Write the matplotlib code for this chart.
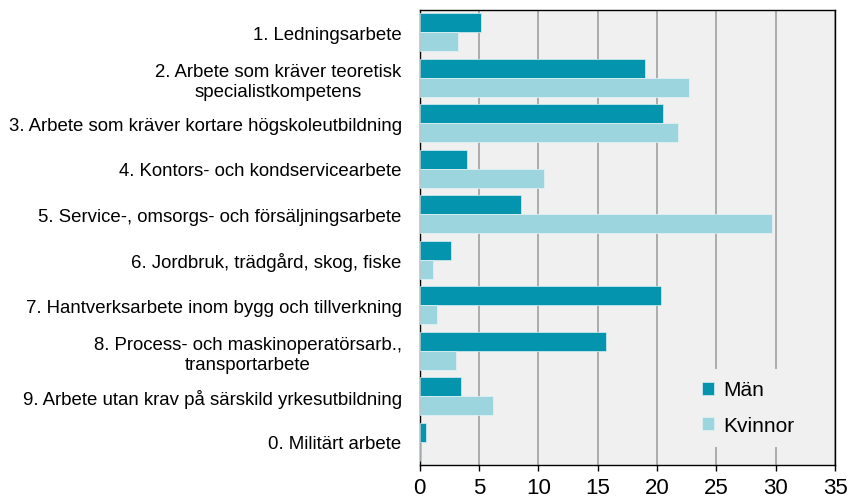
import matplotlib
matplotlib.use("Agg")
import matplotlib.pyplot as plt
import numpy as np

plt.rcParams['font.family'] = ['Liberation Sans', 'DejaVu Sans']

categories = [
    "1. Ledningsarbete",
    "2. Arbete som kräver teoretisk\nspecialistkompetens",
    "3. Arbete som kräver kortare högskoleutbildning",
    "4. Kontors- och kondservicearbete",
    "5. Service-, omsorgs- och försäljningsarbete",
    "6. Jordbruk, trädgård, skog, fiske",
    "7. Hantverksarbete inom bygg och tillverkning",
    "8. Process- och maskinoperatörsarb.,\ntransportarbete",
    "9. Arbete utan krav på särskild yrkesutbildning",
    "0. Militärt arbete",
]
man = [5.2, 19.0, 20.5, 4.0, 8.5, 2.6, 20.3, 15.7, 3.5, 0.5]
kvinnor = [3.2, 22.7, 21.8, 10.5, 29.7, 1.1, 1.5, 3.1, 6.2, 0.0]
xticks = [0, 5, 10, 15, 20, 25, 30, 35]
series_names = ["Män", "Kvinnor"]

c_man = "#0494AE"
c_kv = "#9DD5DF"

fig = plt.figure(figsize=(8.54, 5.02), dpi=100)
ax = fig.add_axes([419.7/854, 1-465.7/502, (835-419.7)/854, 455/502])
ax.set_facecolor("#F0F0F0")

n = len(categories)
y = np.arange(n)
h = 0.4175
ax.barh(y - h/2, man, height=h, color=c_man, edgecolor="#D8EEF2", linewidth=0.5, label=series_names[0], zorder=3)
ax.barh(y + h/2, kvinnor, height=h, color=c_kv, edgecolor="#E4F3F6", linewidth=0.5, label=series_names[1], zorder=3)

ax.set_ylim(n - 0.5, -0.5)
ax.set_xlim(0, 35)
ax.set_xticks(xticks)
ax.set_xticklabels([str(v) for v in xticks], fontsize=16)
ax.set_yticks(y)
ax.set_yticklabels(categories, fontsize=13.4)
for t in ax.get_yticklabels():
    t.set_multialignment('center')

ax.tick_params(axis='y', length=0, pad=13)
ax.tick_params(axis='x', direction='out', length=4.5, width=1, pad=4, color='black')
ax.xaxis.grid(True, color="#A0A0A0", linewidth=1.2, zorder=1)
ax.set_axisbelow(True)
for s in ax.spines.values():
    s.set_color("black")
    s.set_linewidth(1)

leg = ax.legend(loc='lower left', bbox_to_anchor=(0.652, 0.04), borderaxespad=0, fontsize=15,
                frameon=True, facecolor="#F0F0F0", edgecolor="none", framealpha=1,
                handlelength=0.58, handleheight=0.58, handletextpad=0.45,
                labelspacing=0.8, borderpad=0.55, fancybox=False)
leg.set_zorder(5)

fig.savefig("out.png", dpi=100)
